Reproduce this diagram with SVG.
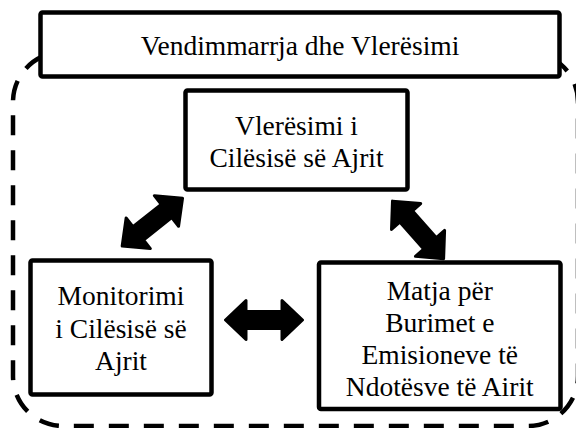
<svg xmlns="http://www.w3.org/2000/svg" width="576" height="428" viewBox="0 0 576 428">
<style>
.box{fill:#fff;stroke:#000;stroke-width:4.5}
text{font-family:'Liberation Serif','Times New Roman',serif;font-size:27.5px;fill:#000;text-anchor:middle}
.arr{fill:#000;stroke:#000;stroke-width:3;stroke-linejoin:round}
.cont{fill:none;stroke:#000;stroke-width:4.5;stroke-dasharray:20 15}
</style>
<defs>
<polygon id="dbl" points="1.5,0 22,-19.5 22,-8.5 58,-8.5 58,-19.5 78.5,0 58,19.5 58,8.5 22,8.5 22,19.5"/>
</defs>
<g id="container">
<rect class="cont" x="13" y="52" width="565" height="374" rx="50" ry="50"/>
</g>
<g id="title">
<rect class="box" x="40.5" y="12.5" width="519" height="64" rx="2"/>
<text x="300" y="55">Vendimmarrja dhe Vlerësimi</text>
</g>
<g id="vleresimi">
<rect class="box" x="185.5" y="90.5" width="222" height="99" rx="2"/>
<text x="296.5" y="135">Vlerësimi i</text>
<text x="296.5" y="167">Cilësisë së Ajrit</text>
</g>
<g id="monitorimi">
<rect class="box" x="30.5" y="260.5" width="181" height="134" rx="2"/>
<text x="121" y="305">Monitorimi</text>
<text x="121" y="337.5">i Cilësisë së</text>
<text x="121" y="370">Ajrit</text>
</g>
<g id="matja">
<rect class="box" x="319" y="262.5" width="241.5" height="146.5" rx="2"/>
<text x="439.75" y="300">Matja për</text>
<text x="439.75" y="332">Burimet e</text>
<text x="439.75" y="364">Emisioneve të</text>
<text x="439.75" y="396">Ndotësve të Airit</text>
</g>
<g id="connectors">
<use href="#dbl" class="arr" transform="translate(121,247) rotate(-38.4)"/>
<use href="#dbl" class="arr" transform="translate(391.5,200) rotate(48.4)"/>
<use href="#dbl" class="arr" transform="translate(224,320)"/>
</g>
</svg>
